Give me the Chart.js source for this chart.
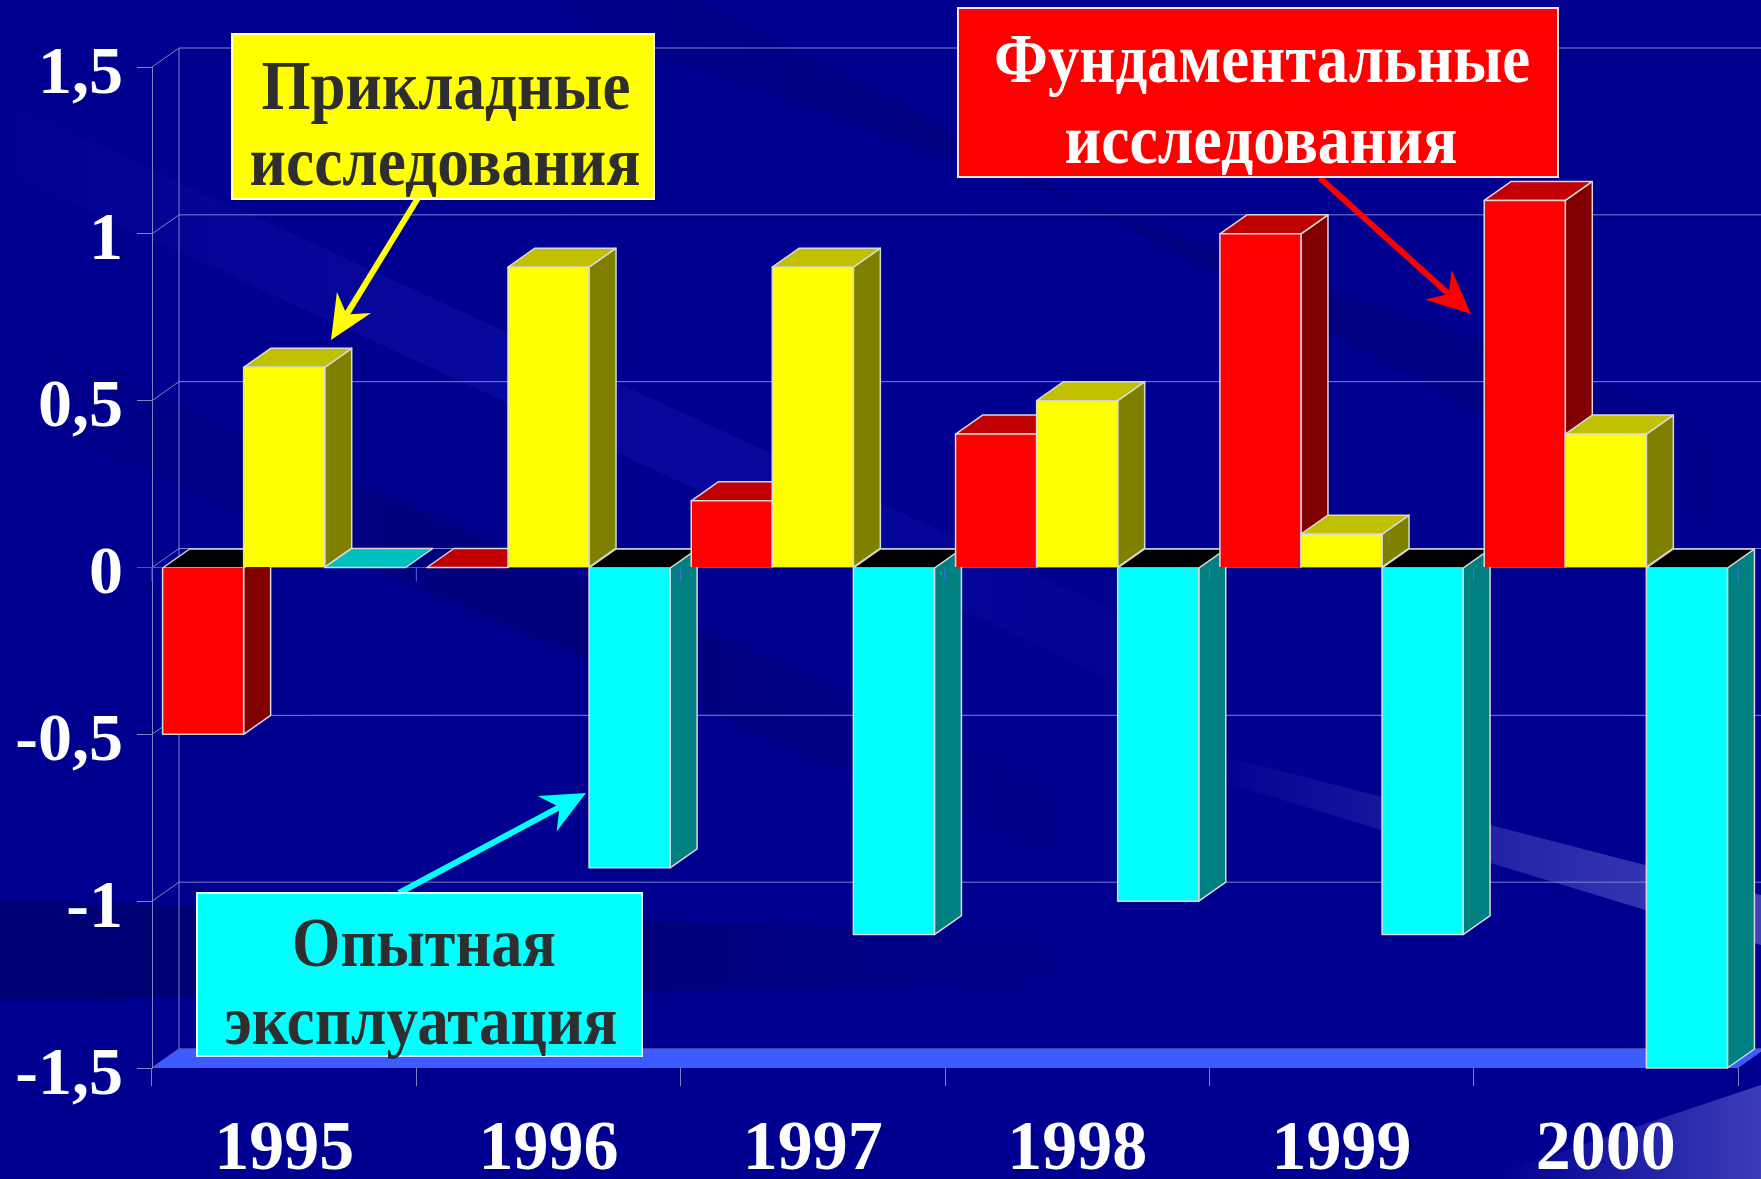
<!DOCTYPE html>
<html>
<head>
<meta charset="utf-8">
<script src="https://cdn.jsdelivr.net/npm/chart.js@4.4.0/dist/chart.umd.min.js"></script>
<style>
html, body { margin: 0; padding: 0; background: #00008f; overflow: hidden; }
canvas { display: block; }
</style>
</head>
<body>
<canvas id="chart" width="1761" height="1179"></canvas>
<script>
// data
const years = ['1995', '1996', '1997', '1998', '1999', '2000'];
const fundamental = [-0.5, 0, 0.2, 0.4, 1.0, 1.1];
const applied = [0.6, 0.9, 0.9, 0.5, 0.1, 0.4];
const experimental = [0, -0.9, -1.1, -1.0, -1.1, -1.5];
const yTickLabels = ['-1,5', '-1', '-0,5', '0', '0,5', '1', '1,5'];
const seriesNames = ['Фундаментальные исследования', 'Прикладные исследования', 'Опытная эксплуатация'];

// face colours for each series: front, top, side
const frontColors = ['#ff0000', '#ffff00', '#00ffff'];
const topColors = ['#c00000', '#c0c000', '#00c0c0'];
const sideColors = ['#800000', '#808000', '#008080'];

const DX = 27, DY = -19;   // depth of the 3d effect
const edgeColor = '#d8d8d8';
const gridColor = '#7a86c4';
const serif = '"Liberation Serif", "Times New Roman", serif';

function poly(ctx, pts, fill, stroke) {
    ctx.beginPath();
    ctx.moveTo(pts[0][0], pts[0][1]);
    for (let i = 1; i < pts.length; i++) ctx.lineTo(pts[i][0], pts[i][1]);
    ctx.closePath();
    if (fill) { ctx.fillStyle = fill; ctx.fill(); }
    if (stroke) { ctx.strokeStyle = stroke; ctx.stroke(); }
}

function line(ctx, x1, y1, x2, y2) {
    ctx.beginPath();
    ctx.moveTo(x1, y1);
    ctx.lineTo(x2, y2);
    ctx.stroke();
}

// soft diagonal band, fading towards both ends
function band(ctx, pts, x1, y1, x2, y2, rgb, alpha) {
    const g = ctx.createLinearGradient(x1, y1, x2, y2);
    g.addColorStop(0, 'rgba(' + rgb + ',0)');
    g.addColorStop(0.35, 'rgba(' + rgb + ',' + alpha + ')');
    g.addColorStop(0.65, 'rgba(' + rgb + ',' + alpha + ')');
    g.addColorStop(1, 'rgba(' + rgb + ',0)');
    poly(ctx, pts, g);
}

const background = {
    id: 'background',
    beforeDraw(chart) {
        const ctx = chart.ctx, w = chart.width, h = chart.height;
        ctx.save();
        ctx.fillStyle = '#000090';
        ctx.fillRect(0, 0, w, h);
        band(ctx, [[0, 100], [0, 170], [1200, 720], [1200, 650]], 0, 0, 1200, 0, '25,25,185', 0.3);
        band(ctx, [[0, 330], [0, 410], [1100, 880], [1100, 800]], 0, 0, 1100, 0, '0,0,60', 0.2);
        band(ctx, [[500, 0], [700, 0], [1761, 560], [1761, 440]], 500, 0, 1761, 0, '0,0,55', 0.18);
        band(ctx, [[0, 900], [1100, 935], [1100, 985], [0, 1000]], -600, 0, 1100, 0, '0,0,55', 0.3);
        let g = ctx.createLinearGradient(1200, 0, 1761, 0);
        g.addColorStop(0, 'rgba(130,130,230,0)');
        g.addColorStop(1, 'rgba(130,130,230,0.5)');
        poly(ctx, [[1200, 750], [1761, 895], [1761, 945], [1200, 775]], g);
        g = ctx.createLinearGradient(1500, 0, 1761, 0);
        g.addColorStop(0, 'rgba(110,110,220,0)');
        g.addColorStop(1, 'rgba(110,110,220,0.55)');
        poly(ctx, [[1480, 1179], [1761, 1085], [1761, 1179]], g);
        ctx.restore();
    }
};

// back wall grid, floor and zero plane line
const wall = {
    id: 'wall',
    beforeDatasetsDraw(chart) {
        const ctx = chart.ctx, a = chart.chartArea, y = chart.scales.y;
        ctx.save();
        ctx.lineWidth = 1;
        ctx.strokeStyle = gridColor;
        y.ticks.forEach(t => {
            const py = y.getPixelForValue(t.value);
            line(ctx, a.left, py, a.left + DX, py + DY);
            line(ctx, a.left + DX, py + DY, a.right + DX, py + DY);
        });
        line(ctx, a.left + DX, a.top + DY, a.left + DX, a.bottom + DY);
        // floor
        poly(ctx, [[a.left, a.bottom], [a.right, a.bottom], [a.right + DX, a.bottom + DY], [a.left + DX, a.bottom + DY]], '#3d5cff');
        const y0 = y.getPixelForValue(0);
        ctx.strokeStyle = '#3355ff';
        line(ctx, a.left - 15, y0, a.right, y0);
        ctx.restore();
    }
};

// bars drawn as boxes, category by category so nearer faces cover the sides
const bars3d = {
    id: 'bars3d',
    afterDatasetsDraw(chart) {
        const ctx = chart.ctx, a = chart.chartArea;
        const metas = [0, 1, 2].map(i => chart.getDatasetMeta(i));
        const y0 = chart.scales.y.getPixelForValue(0);
        ctx.save();
        ctx.lineWidth = 1.5;
        ctx.lineJoin = 'round';
        for (let j = 0; j < years.length; j++) {
            for (let i = 0; i < metas.length; i++) {
                const bar = metas[i].data[j];
                const xl = bar.x - bar.width / 2, xr = bar.x + bar.width / 2;
                const top = Math.min(bar.y, bar.base), bottom = Math.max(bar.y, bar.base);
                const neg = bar.y > bar.base + 0.5;
                if (bottom - top > 0.5) {
                    poly(ctx, [[xr, top], [xr + DX, top + DY], [xr + DX, bottom + DY], [xr, bottom]], sideColors[i], edgeColor);
                }
                poly(ctx, [[xl, top], [xr, top], [xr + DX, top + DY], [xl + DX, top + DY]], neg ? '#000000' : topColors[i], edgeColor);
                if (bottom - top > 0.5) {
                    ctx.fillStyle = frontColors[i];
                    ctx.fillRect(xl, top, xr - xl, bottom - top);
                    ctx.strokeStyle = edgeColor;
                    ctx.beginPath();
                    if (neg) {
                        ctx.moveTo(xl, top); ctx.lineTo(xl, bottom); ctx.lineTo(xr, bottom); ctx.lineTo(xr, top);
                    } else {
                        ctx.moveTo(xl, bottom); ctx.lineTo(xl, top); ctx.lineTo(xr, top); ctx.lineTo(xr, bottom);
                    }
                    ctx.stroke();
                }
            }
        }
        // category ticks on the zero line
        ctx.strokeStyle = '#4a66ff';
        ctx.lineWidth = 1;
        for (let j = 0; j <= years.length; j++) {
            const px = a.left + (a.right - a.left) * j / years.length;
            line(ctx, px, y0, px, y0 + 14);
        }
        ctx.restore();
    }
};

// callout boxes with arrows
const boxTexts = [['Фундаментальные', 'исследования'], ['Прикладные', 'исследования'], ['Опытная', 'эксплуатация']];

function fitText(ctx, text, cx, baseline, width, size, color) {
    ctx.font = 'bold ' + size + 'px ' + serif;
    const w = ctx.measureText(text).width;
    ctx.save();
    ctx.translate(cx, baseline);
    ctx.scale(width / w, 1);
    ctx.fillStyle = color;
    ctx.textAlign = 'center';
    ctx.textBaseline = 'alphabetic';
    ctx.fillText(text, 0, 0);
    ctx.restore();
}

function arrow(ctx, x1, y1, x2, y2, color) {
    const ang = Math.atan2(y2 - y1, x2 - x1);
    const len = 44, half = 20, notch = 30;
    const bx = x2 - Math.cos(ang) * notch, by = y2 - Math.sin(ang) * notch;
    ctx.save();
    ctx.strokeStyle = color;
    ctx.lineWidth = 6;
    line(ctx, x1, y1, bx, by);
    const hx = x2 - Math.cos(ang) * len, hy = y2 - Math.sin(ang) * len;
    const px = -Math.sin(ang) * half, py = Math.cos(ang) * half;
    poly(ctx, [[x2, y2], [hx + px, hy + py], [bx, by], [hx - px, hy - py]], color);
    ctx.restore();
}

const callouts = {
    id: 'callouts',
    afterDraw(chart) {
        const ctx = chart.ctx;
        ctx.save();
        ctx.lineWidth = 2;
        arrow(ctx, 418, 198, 331, 340, '#ffff00');
        arrow(ctx, 1320, 178, 1471, 314, '#ff0000');
        arrow(ctx, 399, 893, 586, 793, '#00ffff');

        poly(ctx, [[958, 8], [1558, 8], [1558, 177], [958, 177]], '#ff0000', '#ffe0e0');
        fitText(ctx, boxTexts[0][0], 1262, 82, 536, 70, '#ffffff');
        fitText(ctx, boxTexts[0][1], 1261, 163, 393, 70, '#ffffff');

        poly(ctx, [[232, 34], [654, 34], [654, 199], [232, 199]], '#ffff00', '#ffffd0');
        fitText(ctx, boxTexts[1][0], 446, 109, 369, 70, '#2e2e2e');
        fitText(ctx, boxTexts[1][1], 445, 185, 391, 70, '#2e2e2e');

        poly(ctx, [[197, 893], [642, 893], [642, 1056], [197, 1056]], '#00ffff', '#e0ffff');
        fitText(ctx, boxTexts[2][0], 424, 966, 264, 70, '#2e2e2e');
        fitText(ctx, boxTexts[2][1], 421, 1044, 393, 70, '#2e2e2e');
        ctx.restore();
    }
};

new Chart(document.getElementById('chart'), {
    type: 'bar',
    data: {
        labels: years,
        datasets: [
            { label: seriesNames[0], data: fundamental, backgroundColor: 'rgba(0,0,0,0)', borderWidth: 0 },
            { label: seriesNames[1], data: applied, backgroundColor: 'rgba(0,0,0,0)', borderWidth: 0 },
            { label: seriesNames[2], data: experimental, backgroundColor: 'rgba(0,0,0,0)', borderWidth: 0 }
        ]
    },
    options: {
        responsive: false,
        animation: false,
        devicePixelRatio: 1,
        layout: { padding: { top: 67, right: 23, left: 0, bottom: 0 } },
        plugins: { legend: { display: false }, tooltip: { enabled: false } },
        datasets: { bar: { categoryPercentage: 0.92, barPercentage: 1 } },
        scales: {
            x: {
                grid: { drawOnChartArea: false, tickLength: 18, color: gridColor, offset: true },
                border: { display: false },
                ticks: { color: '#ffffff', font: { family: serif, size: 70, weight: 'bold' }, padding: 23, maxRotation: 0 },
                afterFit(scale) { scale.height = 111; }
            },
            y: {
                min: -1.5,
                max: 1.5,
                ticks: {
                    stepSize: 0.5,
                    color: '#ffffff',
                    font: { family: serif, size: 68, weight: 'bold' },
                    padding: 14,
                    labelOffset: 8,
                    callback: (v, i) => yTickLabels[i]
                },
                grid: { drawOnChartArea: false, tickLength: 15, color: gridColor },
                border: { color: gridColor },
                afterFit(scale) { scale.width = 152; }
            }
        }
    },
    plugins: [background, wall, bars3d, callouts]
});
</script>
</body>
</html>
